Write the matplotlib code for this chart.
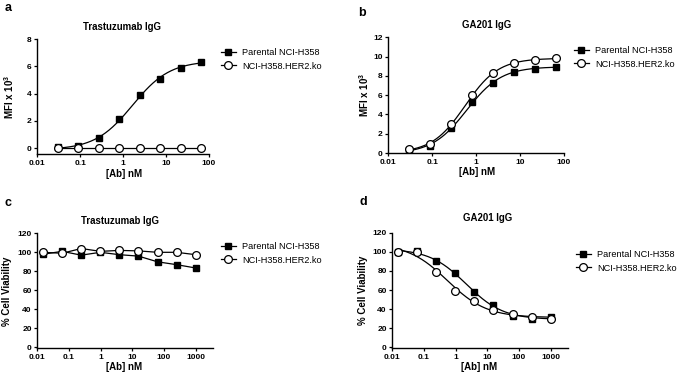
import numpy as np
import matplotlib
matplotlib.use("Agg")
import matplotlib.pyplot as plt
from matplotlib.ticker import FixedLocator, FixedFormatter, NullLocator

plt.rcParams['font.family'] = ['Liberation Sans', 'DejaVu Sans']
plt.rcParams['font.weight'] = 'bold'
plt.rcParams['mathtext.fontset'] = 'custom'
plt.rcParams['mathtext.rm'] = 'Liberation Sans:bold'
plt.rcParams['mathtext.default'] = 'rm'

# binding (MFI x 10^3), 3-fold dilutions
conc_bind = [0.03, 0.09, 0.27, 0.82, 2.47, 7.4, 22.2, 66.7]
trast_mfi_parental = [0.05, 0.15, 0.7, 2.1, 3.9, 5.1, 5.9, 6.3]
trast_mfi_ko = [0, 0, 0, 0, 0, 0, 0, 0]
ga201_mfi_parental = [0.3, 0.75, 2.6, 5.3, 7.3, 8.4, 8.7, 8.95]
ga201_mfi_ko = [0.45, 0.9, 3.0, 6.0, 8.3, 9.3, 9.6, 9.9]

# viability (%), 4-fold dilutions
conc_viab = [0.0153, 0.061, 0.244, 0.98, 3.9, 15.6, 62.5, 250, 1000]
trast_viab_parental = [98, 101, 97, 100, 97.5, 96, 90, 87, 83.5]
trast_viab_ko = [100, 99, 104, 101, 102, 101.5, 100, 100, 97.5]
ga201_viab_parental = [100, 100.5, 90, 77.5, 57.5, 44.5, 33, 30, 31.5]
ga201_viab_ko = [100, 100, 79, 59, 49, 39.5, 35, 32, 29.5]

labels = ["Parental NCI-H358", "NCI-H358.HER2.ko"]


def fit_4pl(x, y):
    # crude 4-parameter logistic fit: grid over logEC50/hill, linear solve for bottom/top
    lx = np.log10(x)
    y = np.asarray(y, float)
    best = None
    for ec in np.linspace(lx.min() - 1, lx.max() + 1, 161):
        for h in np.linspace(0.2, 3, 57):
            s = 1 / (1 + 10 ** ((ec - lx) * h))
            A = np.column_stack([np.ones_like(s), s])
            coef = np.linalg.lstsq(A, y, rcond=None)[0]
            sse = np.sum((A @ coef - y) ** 2)
            if best is None or sse < best[0]:
                best = (sse, ec, h, coef)
    _, ec, h, coef = best

    def f(xx):
        s = 1 / (1 + 10 ** ((ec - np.log10(xx)) * h))
        return coef[0] + coef[1] * s
    return f


def draw(ax, x, ys, fit, xlim, ylim, yticks, xticks):
    x = np.asarray(x)
    styles = [dict(marker='s', ms=5.0, mfc='black', mec='black'),
              dict(marker='o', ms=5.6, mfc='white', mec='black', mew=0.9)]
    handles = []
    for y, st, lab in zip(ys, styles, labels):
        if fit:
            f = fit_4pl(x, y)
            xx = np.logspace(np.log10(x.min()), np.log10(x.max()), 200)
            ax.plot(xx, f(xx), color='black', lw=0.9)
        else:
            ax.plot(x, y, color='black', lw=0.9)
        ax.plot(x, y, ls='none', **st)
        h, = ax.plot([], [], color='black', lw=0.9, label=lab, **st)
        handles.append(h)
    ax.set_xscale('log')
    ax.set_xlim(*xlim)
    ax.set_ylim(*ylim)
    ax.xaxis.set_major_locator(FixedLocator(xticks))
    ax.xaxis.set_major_formatter(FixedFormatter([('%g' % t) for t in xticks]))
    ax.xaxis.set_minor_locator(NullLocator())
    ax.set_yticks(yticks)
    ax.spines['top'].set_visible(False)
    ax.spines['right'].set_visible(False)
    for s in ('left', 'bottom'):
        ax.spines[s].set_linewidth(1.0)
    ax.tick_params(direction='out', length=2.5, width=0.9, labelsize=6.0, pad=1.5)
    for t in ax.get_xticklabels() + ax.get_yticklabels():
        t.set_fontweight('bold')
    return handles


fig = plt.figure(figsize=(6.85, 3.78), dpi=100)
W, H = 685.0, 378.0


def axes_px(x0, x1, ytop, ybot):
    return fig.add_axes([x0 / W, 1 - ybot / H, (x1 - x0) / W, (ybot - ytop) / H])


ax_a = axes_px(37.3, 209, 39, 154)
ax_b = axes_px(388.3, 564, 37.3, 153)
ax_c = axes_px(37.3, 212.7, 233.3, 348.3)
ax_d = axes_px(392.3, 567.7, 232.7, 348.3)

bind_ticks = [0.01, 0.1, 1, 10, 100]
viab_ticks = [0.01, 0.1, 1, 10, 100, 1000]

ha = draw(ax_a, conc_bind, [trast_mfi_parental, trast_mfi_ko], True,
          (0.01, 100), (-0.44, 8), [0, 2, 4, 6, 8], bind_ticks)
hb = draw(ax_b, conc_bind, [ga201_mfi_parental, ga201_mfi_ko], True,
          (0.01, 100), (0, 12), [0, 2, 4, 6, 8, 10, 12], bind_ticks)
hc = draw(ax_c, conc_viab, [trast_viab_parental, trast_viab_ko], False,
          (0.01, 3450), (-1, 120), list(range(0, 121, 20)), viab_ticks)
hd = draw(ax_d, conc_viab, [ga201_viab_parental, ga201_viab_ko], True,
          (0.01, 3450), (-1, 120), list(range(0, 121, 20)), viab_ticks)

legend_pos = [(ax_a, ha, 221, 48), (ax_b, hb, 574, 46),
              (ax_c, hc, 221, 242), (ax_d, hd, 576, 250)]
for ax, hs, lx, ly in legend_pos:
    ax.legend(handles=hs, loc='upper left', bbox_to_anchor=(lx / W, 1 - ly / H),
              bbox_transform=fig.transFigure, frameon=False,
              prop={'weight': 'normal', 'size': 6.6}, handlelength=1.6,
              handletextpad=0.7, labelspacing=0.5, borderpad=0, borderaxespad=0)

titles = [("Trastuzumab IgG", 121.7, 26.7), ("GA201 IgG", 486.7, 25),
          ("Trastuzumab IgG", 120, 221), ("GA201 IgG", 488, 218)]
for txt, x, y in titles:
    fig.text(x / W, 1 - y / H, txt, ha='center', va='center', fontsize=6.9, fontweight='bold')

letters = [("a", 8, 8), ("b", 362, 13), ("c", 8, 203), ("d", 363, 202)]
for txt, x, y in letters:
    fig.text(x / W, 1 - y / H, txt, ha='center', va='center', fontsize=9, fontweight='bold')

xlabels = [(124, 174), (477, 172), (124, 367), (479, 367)]
for x, y in xlabels:
    fig.text(x / W, 1 - y / H, "[Ab] nM", ha='center', va='center', fontsize=7, fontweight='bold')

ylabels = [("MFI x 10$^{3}$", 9, 97), ("MFI x 10$^{3}$", 364, 95),
           ("% Cell Viability", 7, 291), ("% Cell Viability", 363, 290)]
for txt, x, y in ylabels:
    fig.text(x / W, 1 - y / H, txt, ha='center', va='center', rotation=90,
             fontsize=7, fontweight='bold')

fig.savefig("out.png", dpi=100)
